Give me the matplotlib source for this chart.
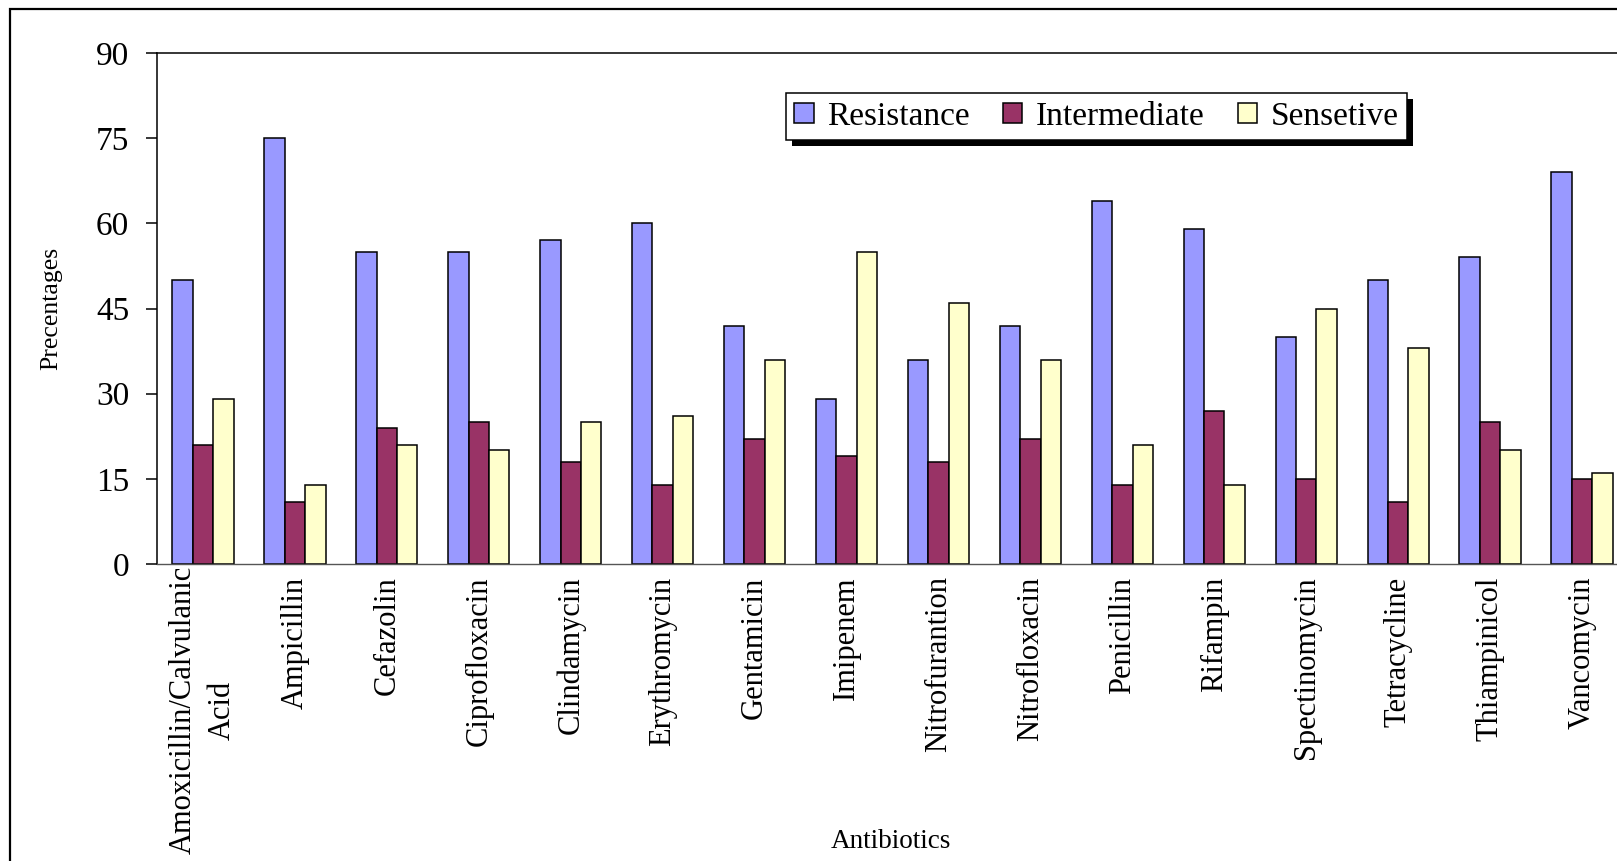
import matplotlib.pyplot as plt
import matplotlib.patches as mpatches
from matplotlib.transforms import IdentityTransform, ScaledTranslation
import numpy as np

plt.rcParams['font.family'] = ['Liberation Serif', 'DejaVu Serif']

antibiotics = ['Amoxicillin/Calvulanic\nAcid', 'Ampicillin', 'Cefazolin', 'Ciprofloxacin',
               'Clindamycin', 'Erythromycin', 'Gentamicin', 'Imipenem', 'Nitrofurantion',
               'Nitrofloxacin', 'Penicillin', 'Rifampin', 'Spectinomycin', 'Tetracycline',
               'Thiampinicol', 'Vancomycin']
resistance = [50, 75, 55, 55, 57, 60, 42, 29, 36, 42, 64, 59, 40, 50, 54, 69]
intermediate = [21, 11, 24, 25, 18, 14, 22, 19, 18, 22, 14, 27, 15, 11, 25, 15]
sensetive = [29, 14, 21, 20, 25, 26, 36, 55, 46, 36, 21, 14, 45, 38, 20, 16]
series_names = ['Resistance', 'Intermediate', 'Sensetive']
colors = ['#9999FF', '#993366', '#FFFFCC']
yticks = [0, 15, 30, 45, 60, 75, 90]

W, H = 1617, 861
fig = plt.figure(figsize=(W / 100, H / 100), dpi=100)

# plot area runs a little past the right edge of the image
ax = fig.add_axes([157 / W, (H - 564) / H, 1471 / W, 511 / H])

# outer chart frame
fig.add_artist(mpatches.Rectangle((10 / W, -0.1), 1.2, (H - 9) / H + 0.1,
                                  transform=fig.transFigure, fill=False,
                                  edgecolor='black', linewidth=1.6))

x = np.arange(len(antibiotics)) + 0.5
bw = 1 / 4.5
for k, (vals, c, name) in enumerate(zip([resistance, intermediate, sensetive], colors, series_names)):
    ax.bar(x + (k - 1) * bw, vals, width=bw, color=c, edgecolor='black',
           linewidth=1.1, label=name)

ax.set_xlim(0, 16)
ax.set_ylim(0, 90)
ax.set_yticks(yticks)
ax.tick_params(axis='y', direction='out', length=8, width=1.1, pad=12, labelsize=24)
ax.set_xticks(x)
ax.set_xticklabels(antibiotics, rotation=90, fontsize=22, va='top', ha='center',
                   linespacing=1.45)
ax.tick_params(axis='x', length=0, pad=9)
# the two-line label sits a bit higher than the others
lab0 = ax.get_xticklabels()[0]
lab0.set_transform(lab0.get_transform() + ScaledTranslation(0, 7.5 / 72, fig.dpi_scale_trans))
for s in ['left', 'top']:
    ax.spines[s].set_linewidth(1.1)
ax.spines['bottom'].set_linewidth(1.0)
ax.spines['bottom'].set_color('#555555')
ax.spines['right'].set_visible(False)

ax.set_ylabel('Precentages', fontsize=18.5)
ax.yaxis.set_label_coords((62 - 157) / 1471, 0.5)
ax.set_xlabel('Antibiotics', fontsize=19.5)
ax.xaxis.set_label_coords((891 - 157) / 1471, (564 - 841) / 511)
ax.xaxis.label.set_va('center')

leg = ax.legend(loc='upper left', bbox_to_anchor=((786 - 157) / 1471, (564 - 93) / 511),
                borderaxespad=0, ncol=3, fontsize=24, frameon=True, fancybox=False,
                framealpha=1, handlelength=0.58, handleheight=0.58, handletextpad=0.4,
                columnspacing=1.0, borderpad=0.25)
leg.get_frame().set_edgecolor('black')
leg.get_frame().set_facecolor('white')
leg.get_frame().set_linewidth(1.1)
leg.set_zorder(5)

# solid black drop shadow behind the legend box
fig.canvas.draw()
bb = leg.get_window_extent()
fig.add_artist(mpatches.Rectangle((bb.x0 + 6, bb.y0 - 6), bb.width, bb.height,
                                  transform=IdentityTransform(), facecolor='black',
                                  edgecolor='none', zorder=4))
ax.set_zorder(6)
ax.patch.set_alpha(0)

fig.savefig('out.png', dpi=100)
